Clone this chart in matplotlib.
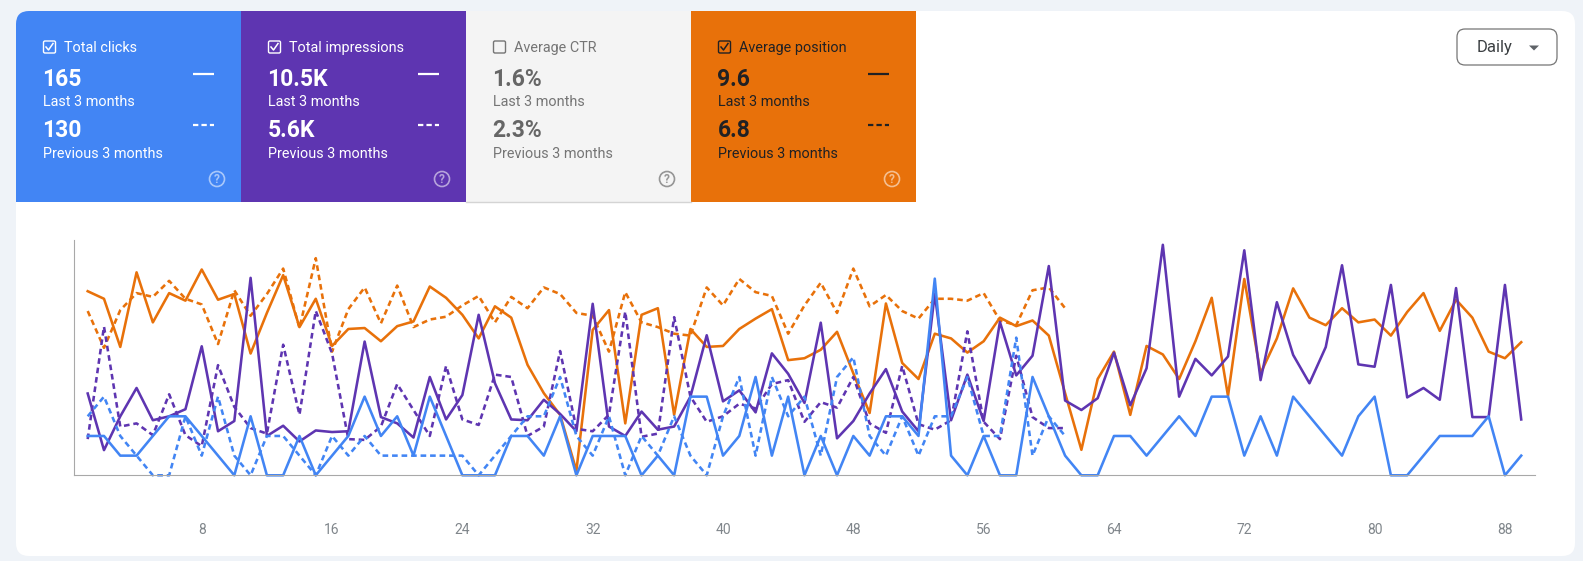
import matplotlib
matplotlib.use('Agg')
import matplotlib.pyplot as plt
import numpy as np
from matplotlib.patches import FancyBboxPatch, Rectangle, Circle, Polygon

plt.rcParams['font.family'] = ['Roboto', 'DejaVu Sans']

clicks = [2,2,1,1,2,3,3,2,1,0,3,0,0,2,0,1,2,4,2,3,1,4,2,0,0,0,2,2,1,3,0,2,2,2,0,1,0,4,4,1,2,5,1,4,0,2,0,2,1,3,3,2,
          10,1,0,2,0,0,5,3,1,0,0,2,2,1,2,3,2,4,4,1,3,1,4,3,2,1,3,4,0,0,1,2,2,2,3,0,1]
clicks_prev = [3,4,2,1,0,0,3,1,4,1,0,2,2,1,0,2,1,2,1,1,1,1,1,1,0,1,2,3,3,5,2,1,3,0,2,1,3,1,0,3,5,1,5,3,4,1,5,6,2,1,3,1,
               3,3,5,2,2,7,1,3,2]
impressions = [104,32,75,111,70,75,84,164,56,69,251,50,63,43,57,55,56,170,74,66,48,125,71,102,204,117,71,70,96,78,56,218,
               62,50,81,58,62,100,178,94,108,80,155,129,92,194,47,69,104,135,81,56,231,70,128,69,195,127,152,266,95,83,98,
               156,89,136,293,100,148,127,151,286,121,220,153,117,163,267,141,138,242,99,111,96,238,74,74,242,71]
impressions_prev = [46,189,62,66,51,103,51,37,140,87,60,53,166,77,209,155,46,45,62,116,83,50,139,71,64,128,125,50,62,158,
                    59,56,77,208,49,53,201,100,68,75,91,85,116,121,68,93,86,125,66,54,139,65,58,70,183,68,46,152,74,60,60]
position = [5.5,6.3,11.4,3.5,8.8,5.7,6.5,3.2,6.4,5.8,12.1,7.8,3.8,9.3,6.3,11.3,9.5,9.4,10.8,9.2,8.7,5.0,6.2,8.0,10.5,7.1,
            8.3,13.3,16.3,18.6,24.5,9.6,7.5,19.5,8.0,7.3,18.6,9.5,11.4,11.3,9.5,8.4,7.4,12.8,12.6,11.7,9.8,14.2,18.4,6.8,
            13.1,14.8,10.0,10.5,12.0,10.8,8.3,9.2,8.6,10.2,16.3,22.3,14.8,11.9,18.6,11.3,12.2,14.8,10.8,6.2,16.6,4.2,14.2,
            10.5,5.2,8.3,9.1,7.3,8.8,8.5,10.2,7.7,5.7,9.7,6.4,8.3,11.9,12.6,10.9]
position_prev = [7.6,11.5,7.5,5.7,6.1,4.4,6.3,6.9,11.1,5.4,8.1,5.8,3.1,9.4,2.0,11.9,7.4,5.1,8.9,4.9,9.3,8.5,8.2,7.0,6.0,8.8,
                 6.1,7.3,5.1,5.8,7.8,8.1,11.9,5.6,8.8,9.3,10.0,10.2,5.1,7.0,4.2,5.6,6.0,10.0,7.0,4.6,7.8,3.1,7.1,5.9,7.6,
                 8.4,6.3,6.3,6.5,5.7,8.6,9.1,5.4,5.1,7.3]
x_ticks = [8, 16, 24, 32, 40, 48, 56, 64, 72, 80, 88]

card_titles = ['Total clicks', 'Total impressions', 'Average CTR', 'Average position']
card_last = ['165', '10.5K', '1.6%', '9.6']
card_prev = ['130', '5.6K', '2.3%', '6.8']
card_checked = [True, True, False, True]

BLUE = '#4285f4'
PURPLE = '#5e35b1'
ORANGE = '#e8710a'
card_colors = [BLUE, PURPLE, '#f4f4f4', ORANGE]
title_colors = ['white', 'white', '#757575', '#202124']
value_colors = ['white', 'white', '#666666', '#202124']

W, H = 1583, 561
fig = plt.figure(figsize=(W / 100, H / 100), dpi=100, facecolor='#eff3f8')

# page layer in pixel units, y pointing down
page = fig.add_axes([0, 0, 1, 1])
page.set_xlim(0, W)
page.set_ylim(H, 0)
page.axis('off')

panel = FancyBboxPatch((16, 11), 1559, 545, boxstyle='round,pad=0,rounding_size=13', fc='white', ec='none')
page.add_patch(panel)

for i in range(4):
    x0 = 16 + 225 * i
    tx = x0 + 27
    bg = Rectangle((x0, 11), 225, 191, fc=card_colors[i], ec='none')
    page.add_patch(bg)
    bg.set_clip_path(panel)
    tc = title_colors[i]
    vc = value_colors[i]

    box = FancyBboxPatch((tx + 0.5, 41), 12, 12, boxstyle='round,pad=0,rounding_size=1.5',
                         fc='none', ec=tc, lw=1.0)
    page.add_patch(box)
    if card_checked[i]:
        page.plot([tx + 3, tx + 5.5, tx + 10], [47, 50, 43.5], color=tc, lw=1.1)

    page.text(tx + 21, 47.7, card_titles[i], color=tc, fontsize=10.4, va='center', ha='left')
    page.text(tx - 0.5, 79.7, card_last[i], color=vc, fontsize=16.5, fontweight='bold', va='center', ha='left')
    page.text(tx, 101.7, 'Last 3 months', color=tc, fontsize=10.4, va='center', ha='left')
    page.text(tx - 0.5, 130.7, card_prev[i], color=vc, fontsize=16.5, fontweight='bold', va='center', ha='left')
    page.text(tx, 153.7, 'Previous 3 months', color=tc, fontsize=10.4, va='center', ha='left')

    # legend samples, hidden metric has none
    if card_checked[i]:
        page.plot([x0 + 177, x0 + 198], [74, 74], color=vc, lw=1.6, solid_capstyle='butt')
        page.plot([x0 + 177, x0 + 198], [125, 125], color=vc, lw=1.6, dashes=(2.4, 1.4))
    else:
        page.plot([x0, x0 + 225], [201.5, 201.5], color='#d4d4d4', lw=1)

    icon = 'white' if i != 2 else '#757575'
    alpha = 0.55 if i != 2 else 0.75
    page.add_patch(Circle((x0 + 201, 179), 7.5, fc='none', ec=icon, lw=1.2, alpha=alpha))
    page.text(x0 + 201, 179.5, '?', color=icon, alpha=alpha, fontsize=8.5, fontweight='bold', ha='center', va='center')

# Daily dropdown
page.add_patch(FancyBboxPatch((1457, 29), 100, 36, boxstyle='round,pad=0,rounding_size=8',
                              fc='white', ec='#757575', lw=0.9))
page.text(1476.5, 47.5, 'Daily', color='#3c4043', fontsize=12, va='center', ha='left')
page.add_patch(Polygon([[1529, 45.5], [1539, 45.5], [1534, 50.5]], fc='#5f6368', ec='none'))

# one scale per metric, all sharing the same plot rectangle
left, right, top, bottom = 74.3, 1535, 239.3, 475.3
rect = [left / W, (H - bottom) / H, (right - left) / W, (bottom - top) / H]
xlim = (1 - (87.7 - left) / 16.29, 1 + (right - 87.7) / 16.29)

ax_pos = fig.add_axes(rect, facecolor='none')
ax_imp = fig.add_axes(rect, facecolor='none')
ax = fig.add_axes(rect, facecolor='none')
for a in (ax_pos, ax_imp, ax):
    a.set_xlim(xlim)
ax_pos.set_ylim(25, 0)
ax_imp.set_ylim(0, 300)
ax.set_ylim(0, 12)
ax_pos.axis('off')
ax_imp.axis('off')

days = np.arange(1, 90)
days_prev = np.arange(1, 62)
lw = 1.85
dash = (2.2, 1.5)
ax_pos.plot(days_prev, position_prev, color=ORANGE, lw=lw, dashes=dash, clip_on=False)
ax_imp.plot(days_prev, impressions_prev, color=PURPLE, lw=lw, dashes=dash, clip_on=False)
ax.plot(days_prev, clicks_prev, color=BLUE, lw=lw, dashes=dash, clip_on=False)
ax_pos.plot(days, position, color=ORANGE, lw=lw, clip_on=False)
ax_imp.plot(days, impressions, color=PURPLE, lw=lw, clip_on=False)
ax.plot(days, clicks, color=BLUE, lw=lw, clip_on=False)

ax.spines['top'].set_visible(False)
ax.spines['right'].set_visible(False)
ax.spines['left'].set_color('#a8a8a8')
ax.spines['left'].set_bounds(0, 11.95)
ax.spines['bottom'].set_color('#a8a8a8')
ax.set_yticks([])
ax.set_xticks(x_ticks)
ax.tick_params(axis='x', length=0, pad=34, labelsize=10, labelcolor='#80868b')

fig.savefig('out.png', dpi=100, facecolor=fig.get_facecolor())
